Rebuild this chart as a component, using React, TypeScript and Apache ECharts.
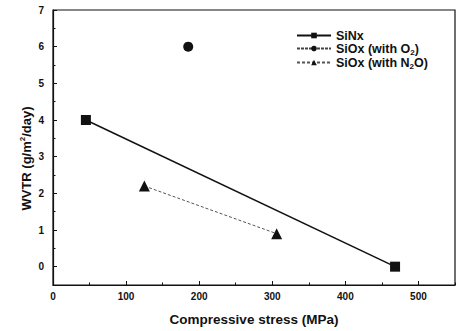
import React, { useEffect, useRef } from "react";
import * as echarts from "echarts";

const sinxData: [number, number][] = [[45, 4], [468, 0]];
const sioxO2Data: [number, number][] = [[185, 6]];
const sioxN2OData: [number, number][] = [[125, 2.2], [306, 0.9]];
const yMajorTicks = [0, 1, 2, 3, 4, 5, 6, 7];
const xMajorTicks = [0, 100, 200, 300, 400, 500];
const seriesNames = ["SiNx", "SiOx (with O2)", "SiOx (with N2O)"];

export default function App() {
  const ref = useRef<HTMLDivElement>(null);
  useEffect(() => {
    if (!ref.current) return;
    const chart = echarts.init(ref.current, undefined, { renderer: "svg" });
    const font = "Liberation Sans, Arial, sans-serif";
    const black = "#111";
    chart.setOption({
      animation: false,
      backgroundColor: "#fff",
      textStyle: { fontFamily: font },
      grid: { left: 53, right: 4, top: 10, bottom: 46, show: true, borderColor: black, borderWidth: 1.2 },
      legend: {
        orient: "vertical",
        left: 291,
        top: 24,
        itemWidth: 34,
        itemHeight: 7,
        itemGap: 0,
        data: seriesNames,
        formatter: (n: string) => {
          if (n === "SiOx (with O2)") return "{a|SiOx (with O}{s|2}{a|)}";
          if (n === "SiOx (with N2O)") return "{a|SiOx (with N}{s|2}{a|O)}";
          return "{a|" + n + "}";
        },
        textStyle: {
          rich: {
            a: { fontFamily: font, fontWeight: "bold", fontSize: 12.5, color: black, lineHeight: 14 },
            s: { fontFamily: font, fontWeight: "bold", fontSize: 8, color: black, verticalAlign: "bottom", padding: [7, 0, 0, 0] },
          },
        },
      },
      xAxis: [
        {
          type: "value",
          min: 0,
          max: 550,
          name: "Compressive stress (MPa)",
          nameLocation: "middle",
          nameGap: 27,
          nameMoveOverlap: false,
          nameTextStyle: { fontFamily: font, fontWeight: "bold", fontSize: 13.5, color: black },
          axisLine: { show: true, onZero: false, lineStyle: { color: black, width: 1.2 } },
          axisTick: { show: true, inside: true, length: 4, customValues: xMajorTicks, lineStyle: { color: black } },
          axisLabel: { fontFamily: font, fontWeight: "bold", fontSize: 10, color: black, margin: 6, customValues: xMajorTicks },
          splitLine: { show: false },
        },
        {
          type: "value",
          min: 0,
          max: 550,
          interval: 50,
          position: "bottom",
          axisLine: { show: false, onZero: false },
          axisTick: { show: true, inside: true, length: 2.5, lineStyle: { color: black } },
          axisLabel: { show: false },
          splitLine: { show: false },
        },
      ],
      yAxis: [
        {
          type: "value",
          min: -0.5,
          max: 7,
          name: "{a|WVTR (g/m}{s|2}{a|/day)}",
          nameLocation: "middle",
          nameGap: 19,
          nameMoveOverlap: false,
          nameTextStyle: {
            padding: [0, 22, 0, 0],
            rich: {
              a: { fontFamily: font, fontWeight: "bold", fontSize: 13, color: black },
              s: { fontFamily: font, fontWeight: "bold", fontSize: 8, color: black, verticalAlign: "top", padding: [0, 0, 8, 0] },
            },
          },
          axisLine: { show: true, onZero: false, lineStyle: { color: black, width: 1.2 } },
          axisTick: { show: true, inside: true, length: 4, customValues: yMajorTicks, lineStyle: { color: black } },
          axisLabel: { fontFamily: font, fontWeight: "bold", fontSize: 10, color: black, margin: 9, customValues: yMajorTicks },
          splitLine: { show: false },
        },
        {
          type: "value",
          min: -0.5,
          max: 7,
          interval: 0.5,
          position: "left",
          axisLine: { show: false, onZero: false },
          axisTick: { show: true, inside: true, length: 2.5, lineStyle: { color: black } },
          axisLabel: { show: false },
          splitLine: { show: false },
        },
      ],
      series: [
        {
          name: seriesNames[0],
          type: "line",
          data: sinxData,
          symbol: "rect",
          symbolSize: 10,
          itemStyle: { color: black },
          lineStyle: { color: black, width: 1.5, type: "solid" },
        },
        {
          name: seriesNames[1],
          type: "line",
          data: sioxO2Data,
          symbol: "circle",
          symbolSize: 10,
          itemStyle: { color: black },
          lineStyle: { color: "#444", width: 1, type: [3, 1] },
        },
        {
          name: seriesNames[2],
          type: "line",
          data: sioxN2OData,
          symbol: "triangle",
          symbolSize: 11,
          itemStyle: { color: black },
          lineStyle: { color: "#555", width: 1, type: [3, 2] },
        },
      ],
    });
    return () => chart.dispose();
  }, []);
  return <div ref={ref} style={{ width: 459, height: 331, position: "absolute", left: 0, top: 0 }} />;
}
